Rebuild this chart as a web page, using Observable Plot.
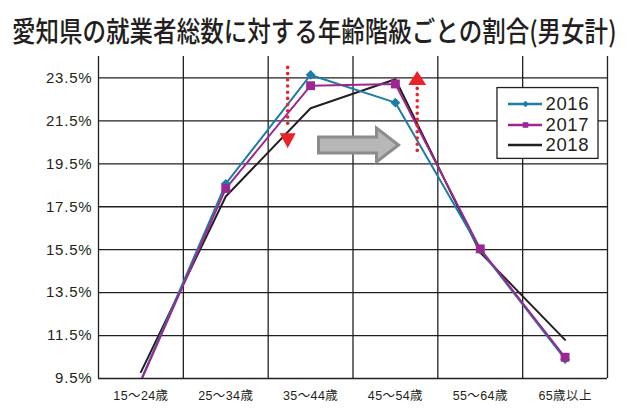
<!DOCTYPE html>
<html><head><meta charset="utf-8">
<script src="https://cdn.jsdelivr.net/npm/d3@7"></script>
<script src="https://cdn.jsdelivr.net/npm/@observablehq/plot@0.6"></script>
<style>
body{margin:0;background:#fff;width:630px;height:415px;overflow:hidden}
#title{height:50px;position:relative;font-family:"Noto Sans CJK JP",sans-serif;}
#title span{position:absolute;left:12px;top:16px;font-size:28px;white-space:nowrap;transform:scaleX(0.84);transform-origin:left top;color:#231f20;line-height:1;font-weight:500}
#chart svg [aria-label="y-axis tick label"] text{letter-spacing:0.8px}
#chart svg [aria-label="x-axis tick label"] text{letter-spacing:0.4px}
#chart svg .leg text{letter-spacing:0.6px}
</style></head><body>
<div id="title"><span>愛知県の就業者総数に対する年齢階級ごとの割合(男女計)</span></div>
<div id="chart"></div>
<script>
// ---- data ----
const categories = ["15～24歳","25～34歳","35～44歳","45～54歳","55～64歳","65歳以上"];
const years = ["2016","2017","2018"];
const values2016 = [9.42, 18.57, 23.64, 22.35, 15.50, 10.40];
const values2017 = [9.38, 18.35, 23.14, 23.22, 15.54, 10.49];
const values2018 = [9.80, 17.98, 22.09, 23.44, 15.37, 11.30];
const yTicks = [9.5, 11.5, 13.5, 15.5, 17.5, 19.5, 21.5, 23.5];
const yDomain = [9.5, 24.5];

// annotations (data units: x = category index, y = percent)
const dottedLines = [{x: 1.73, y1: 23.97, y2: 21.13}, {x: 3.257, y1: 22.99, y2: 19.83}];
const triangles = [{x: 1.73, y: 20.57, dir: "down"}, {x: 3.257, y: 23.5, dir: "up"}];
const bigArrow = [{x: 2.565, y: 20.38}];
const legendBox = [{x1: 4.203, x2: 5.394, y1: 19.73, y2: 23.03}];
const legendY = [22.29, 21.31, 20.38];
const legendLine = {x1: 4.333, x2: 4.734, label: 4.77};

// ---- styles ----
const colors = {"2016": "#1c7ea6", "2017": "#9d2790", "2018": "#231f20"};
const symbols = {"2016": "diamond2", "2017": "square", "2018": null};
const symR = {"2016": 4.4, "2017": 5.0};
const ink = "#231f20";
const red = "#ec2229";

const series = [values2016, values2017, values2018];
const rows = years.flatMap((yr, k) => series[k].map((v, i) => ({year: yr, x: i, v})));
const inDomain = rows.filter(d => d.v >= yDomain[0] && d.v <= yDomain[1]);
const gridX = d3.range(categories.length + 1).map(i => i - 0.5);
const xDomain = [gridX[0], gridX[gridX.length - 1]];
const legendRows = years.map((yr, k) => ({year: yr, y: legendY[k]}));

const downTri = {draw(c){c.moveTo(-8,-7.5);c.lineTo(8,-7.5);c.lineTo(0,7.5);c.closePath();}};
const upTri = {draw(c){c.moveTo(-9,7);c.lineTo(9,7);c.lineTo(0,-7);c.closePath();}};
const arrowSym = {draw(c){
  c.moveTo(-40,-8);c.lineTo(18,-8);c.lineTo(18,-17);c.lineTo(40,0);
  c.lineTo(18,17);c.lineTo(18,8);c.lineTo(-40,8);c.closePath();}};

const drawOrder = ["2018", "2016", "2017"];

const chart = Plot.plot({
  width: 630,
  height: 365,
  marginTop: 6,
  marginBottom: 37,
  marginLeft: 98,
  marginRight: 23,
  style: {fontFamily: "'Liberation Sans', Arial, 'Noto Sans CJK JP', sans-serif", color: ink, background: "#fff"},
  x: {domain: xDomain},
  y: {domain: yDomain},
  marks: [
    Plot.ruleY(yTicks, {y: d => d, x1: xDomain[0], x2: xDomain[1], stroke: ink, strokeWidth: 1.3}),
    Plot.ruleX(gridX, {x: d => d, y1: yDomain[0], y2: yDomain[1], stroke: ink, strokeWidth: 1.3}),
    Plot.axisY({ticks: yTicks, tickFormat: d => d.toFixed(1) + "%", tickSize: 0, tickPadding: 6, fontSize: 15, label: null, fill: ink}),
    Plot.axisX({ticks: d3.range(categories.length), tickFormat: i => categories[i], tickSize: 0, tickPadding: 13, fontSize: 12.5, label: null, fill: ink}),
    ...drawOrder.map(yr => Plot.line(rows.filter(d => d.year === yr), {x: "x", y: "v", stroke: colors[yr], strokeWidth: 2, clip: true})),
    ...drawOrder.filter(yr => symbols[yr]).map(yr => Plot.dot(inDomain.filter(d => d.year === yr), {x: "x", y: "v", symbol: symbols[yr], r: symR[yr], fill: colors[yr], stroke: "none"})),
    // annotations
    Plot.ruleX(dottedLines, {x: "x", y1: "y1", y2: "y2", stroke: red, strokeWidth: 3.6, strokeDasharray: "0,6.2", strokeLinecap: "round"}),
    Plot.dot(triangles.filter(d => d.dir === "down"), {x: "x", y: "y", symbol: downTri, r: 8, fill: red, stroke: "none"}),
    Plot.dot(triangles.filter(d => d.dir === "up"), {x: "x", y: "y", symbol: upTri, r: 8, fill: red, stroke: "none"}),
    Plot.dot(bigArrow, {x: "x", y: "y", symbol: arrowSym, r: 8, fill: "#b7b7b7", stroke: "#8c8c8c", strokeWidth: 3}),
    // legend
    Plot.rect(legendBox, {x1: "x1", x2: "x2", y1: "y1", y2: "y2", fill: "#fff", stroke: ink, strokeWidth: 1.3}),
    Plot.ruleY(legendRows, {y: "y", x1: legendLine.x1, x2: legendLine.x2, stroke: d => colors[d.year], strokeWidth: 2.6}),
    Plot.dot(legendRows.filter(d => symbols[d.year]), {x: (legendLine.x1 + legendLine.x2) / 2, y: "y", symbol: d => symbols[d.year], r: d => symR[d.year], fill: d => colors[d.year], stroke: "none"}),
    Plot.text(legendRows, {x: legendLine.label, y: "y", text: "year", textAnchor: "start", fontSize: 18.5, fill: ink, className: "leg"})
  ]
});
document.getElementById("chart").appendChild(chart);
</script>
</body></html>
